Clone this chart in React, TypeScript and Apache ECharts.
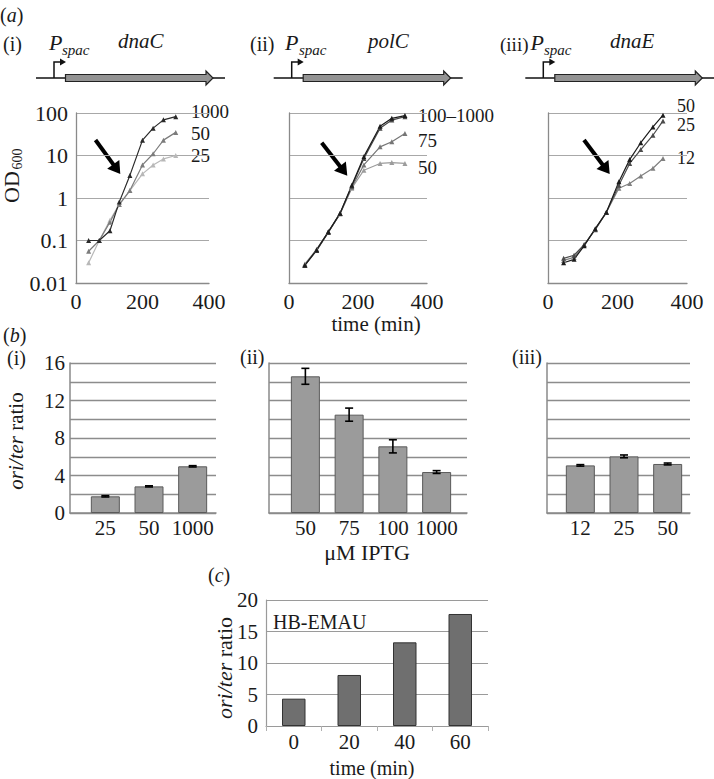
import React, { useEffect, useRef } from "react";
import * as echarts from "echarts";

const FONT = '"Liberation Serif", "Times New Roman", Times, serif';
const INK = "#1a1a1a";

// ---------- (a) growth curves: time (min) vs OD600 ----------
const timeAi = [38, 70, 102, 130, 162, 200, 232, 263, 300];
const odAi1000 = [0.1, 0.1, 0.17, 0.8, 3.4, 23, 44, 69, 82];
const odAi50 = [0.056, 0.1, 0.27, 0.7, 1.5, 6, 11, 23, 35];
const odAi25 = [0.03, 0.1, 0.3, 0.7, 1.5, 3.7, 6, 8.3, 10];

const timeAii = [46, 80, 114, 148, 182, 217, 264, 298, 336];
const odAii1000 = [0.026, 0.06, 0.16, 0.44, 2.0, 9.4, 49, 75, 87];
const odAii100 = [0.026, 0.058, 0.155, 0.43, 1.9, 8.5, 44, 68, 82];
const odAii75 = [0.027, 0.06, 0.16, 0.43, 1.8, 6.0, 16, 21, 33];
const odAii50 = [0.028, 0.062, 0.16, 0.42, 1.7, 4.5, 6.5, 6.8, 6.5];

const timeAiii = [45, 75, 104, 136, 168, 204, 235, 267, 302, 331];
const odAiii50 = [0.03, 0.036, 0.075, 0.19, 0.46, 2.4, 8, 20, 47, 89];
const odAiii25 = [0.038, 0.045, 0.08, 0.18, 0.46, 2.0, 6.5, 13.8, 30, 65];
const odAiii12 = [0.034, 0.04, 0.078, 0.185, 0.46, 1.7, 2.2, 3.3, 5, 8.5];

const odTicks = [0.01, 0.1, 1, 10, 100];

// ---------- (b) ori/ter ratio vs µM IPTG ----------
const iptgBi = ["25", "50", "1000"];
const ratioBi = [1.78, 2.84, 4.98];
const errBi = [0.07, 0.06, 0.07];

const iptgBii = ["50", "75", "100", "1000"];
const ratioBii = [14.58, 10.49, 7.11, 4.37];
const errBii = [0.85, 0.7, 0.7, 0.15];

const iptgBiii = ["12", "25", "50"];
const ratioBiii = [5.08, 6.04, 5.23];
const errBiii = [0.08, 0.15, 0.1];

// ---------- (c) HB-EMAU ori/ter ratio vs time ----------
const timeC = ["0", "20", "40", "60"];
const ratioC = [4.34, 8.1, 13.28, 17.78];

const rs = (size: number, italic = false) => ({
  fontSize: size,
  fontFamily: FONT,
  fill: INK,
  fontStyle: italic ? "italic" : "normal",
});

const txt = (x: number, y: number, text: string, size: number, opts: any = {}) => ({
  type: "text",
  x,
  y,
  silent: true,
  style: {
    text,
    fontSize: size,
    fontFamily: FONT,
    fill: INK,
    fontStyle: opts.italic ? "italic" : "normal",
    align: opts.align || "left",
    verticalAlign: "middle",
    rich: opts.rich,
  },
});

const vGroup = (x: number, y: number, children: any[]) => ({
  type: "group",
  x,
  y,
  rotation: Math.PI / 2,
  children,
});

const gene = (P: number) => [
  { type: "line", shape: { x1: P - 18, y1: 78, x2: P + 171, y2: 78 }, style: { stroke: "#111", lineWidth: 1.5 } },
  {
    type: "polyline",
    shape: { points: [[P, 78], [P, 62], [P + 7, 62]] },
    style: { stroke: "#111", lineWidth: 1.5, fill: null },
  },
  { type: "polygon", shape: { points: [[P + 6, 58.5], [P + 12, 62], [P + 6, 65.5]] }, style: { fill: "#111" } },
  {
    type: "polygon",
    shape: {
      points: [
        [P + 11.5, 74.5],
        [P + 152, 74.5],
        [P + 152, 71],
        [P + 159, 78],
        [P + 152, 85],
        [P + 152, 81.5],
        [P + 11.5, 81.5],
      ],
    },
    style: { fill: "#939393", stroke: "#222", lineWidth: 1.2 },
  },
];

const bigArrow = (x1: number, y1: number, x2: number, y2: number) => {
  const dx = x2 - x1;
  const dy = y2 - y1;
  const L = Math.hypot(dx, dy);
  const ux = dx / L;
  const uy = dy / L;
  const hl = 12;
  const hw = 7.5;
  const bx = x2 - ux * hl;
  const by = y2 - uy * hl;
  return [
    { type: "line", shape: { x1, y1, x2: bx + ux, y2: by + uy }, style: { stroke: "#000", lineWidth: 4 } },
    {
      type: "polygon",
      shape: { points: [[x2, y2], [bx - uy * hw, by + ux * hw], [bx + uy * hw, by - ux * hw]] },
      style: { fill: "#000" },
    },
  ];
};

const oriTerRich = (size: number) => ({
  i: rs(size, true),
  n: rs(size, false),
});

export default function App() {
  const ref = useRef<HTMLDivElement>(null);

  useEffect(() => {
    if (!ref.current) return;
    const chart = echarts.init(ref.current, undefined, { renderer: "svg" });

    const logFmt = (v: number) => {
      const t = odTicks.find((k) => Math.abs(Math.log10(k) - Math.log10(v)) < 1e-6);
      return t === undefined ? "" : String(t);
    };

    const aGrids = [
      { left: 76, top: 113, width: 133, height: 170 },
      { left: 289, top: 113, width: 138, height: 170 },
      { left: 548, top: 113, width: 139, height: 170 },
    ];
    const bGrids = [
      { left: 70, top: 363, width: 146, height: 150 }, // frame i
      { left: 83.5, top: 363, width: 131, height: 150 }, // bars i
      { left: 269, top: 363, width: 198, height: 150 }, // frame ii
      { left: 283.5, top: 363, width: 175, height: 150 }, // bars ii
      { left: 547, top: 363, width: 143, height: 150 }, // frame iii
      { left: 558.5, top: 363, width: 131, height: 150 }, // bars iii
    ];
    const cGrid = { left: 266, top: 600, width: 222, height: 126 };
    const grids = [...aGrids, ...bGrids, cGrid];

    const xAxes: any[] = [];
    const yAxes: any[] = [];

    // (a) axes: 0,1,2
    aGrids.forEach((_, i) => {
      xAxes.push({
        gridIndex: i,
        type: "value",
        min: 0,
        max: 400,
        interval: 200,
        axisLine: { onZero: false, lineStyle: { color: "#8a8a8a", width: 1.3 } },
        axisTick: { show: false },
        splitLine: { show: false },
        axisLabel: { fontSize: 22, fontFamily: FONT, color: INK, margin: 7 },
      });
      yAxes.push({
        gridIndex: i,
        type: "log",
        logBase: 10,
        min: 0.01,
        max: 100,
        axisLine: { show: true, onZero: false, lineStyle: { color: "#8a8a8a", width: 1.3 } },
        axisTick: { show: false },
        splitLine: { show: true, lineStyle: { color: "#a8a8a8", width: 1.2 } },
        axisLabel: {
          show: i === 0,
          fontSize: 22,
          fontFamily: FONT,
          color: INK,
          margin: 8,
          formatter: logFmt,
        },
      });
    });

    // (b) axes: frames and bars, grid indices 3..8
    const bCats = [iptgBi, iptgBii, iptgBiii];
    [0, 1, 2].forEach((k) => {
      const frame = 3 + k * 2;
      const bars = frame + 1;
      xAxes.push({
        gridIndex: frame,
        type: "value",
        min: 0,
        max: 1,
        axisLine: { show: true, onZero: false, lineStyle: { color: "#8a8a8a", width: 1.5 } },
        axisTick: { show: false },
        axisLabel: { show: false },
        splitLine: { show: false },
      });
      yAxes.push({
        gridIndex: frame,
        type: "value",
        min: 0,
        max: 16,
        interval: 2,
        axisLine: { show: true, onZero: false, lineStyle: { color: "#8a8a8a", width: 1.5 } },
        axisTick: { show: false },
        splitLine: { show: true, lineStyle: { color: "#8c8c8c", width: 1.4 } },
        axisLabel: {
          show: k === 0,
          fontSize: 21,
          fontFamily: FONT,
          color: INK,
          margin: 5,
          formatter: (v: number) => (v % 4 === 0 ? String(v) : ""),
        },
      });
      xAxes.push({
        gridIndex: bars,
        type: "category",
        data: bCats[k],
        axisLine: { show: false },
        axisTick: { show: false },
        splitLine: { show: false },
        axisLabel: { interval: 0, hideOverlap: false, fontSize: 21, fontFamily: FONT, color: INK, margin: 4 },
      });
      yAxes.push({
        gridIndex: bars,
        type: "value",
        min: 0,
        max: 16,
        show: false,
      });
    });

    // (c) axes: grid 9
    xAxes.push({
      gridIndex: 9,
      type: "category",
      data: timeC,
      axisLine: { show: true, onZero: false, lineStyle: { color: "#9a9a9a", width: 1.2 } },
      axisTick: { show: true, length: 5, lineStyle: { color: "#b0b0b0" } },
      splitLine: { show: false },
      axisLabel: { interval: 0, fontSize: 21, fontFamily: FONT, color: INK, margin: 5 },
    });
    yAxes.push({
      gridIndex: 9,
      type: "value",
      min: 0,
      max: 20,
      interval: 5,
      axisLine: { show: true, onZero: false, lineStyle: { color: "#9a9a9a", width: 1.2 } },
      axisTick: { show: false },
      splitLine: { show: true, lineStyle: { color: "#9a9a9a", width: 1.2 } },
      axisLabel: { fontSize: 21, fontFamily: FONT, color: INK, margin: 8 },
    });

    const lineS = (axis: number, times: number[], vals: number[], color: string, width = 1.2) => ({
      type: "line",
      xAxisIndex: axis,
      yAxisIndex: axis,
      data: times.map((t, i) => [t, vals[i]]),
      symbol: "triangle",
      symbolSize: 5,
      showSymbol: true,
      lineStyle: { color, width },
      itemStyle: { color },
      silent: true,
      z: 3,
    });

    const barS = (axis: number, vals: number[], color: string, border: string, width: number) => ({
      type: "bar",
      xAxisIndex: axis,
      yAxisIndex: axis,
      data: vals,
      barWidth: width,
      itemStyle: { color, borderColor: border, borderWidth: 1 },
      silent: true,
      z: 3,
    });

    const errS = (axis: number, vals: number[], errs: number[]) => ({
      type: "custom",
      xAxisIndex: axis,
      yAxisIndex: axis,
      data: vals.map((v, i) => [i, v, errs[i]]),
      encode: { x: 0, y: 1 },
      silent: true,
      z: 5,
      renderItem: (params: any, api: any) => {
        const x = api.value(0);
        const y = api.value(1);
        const e = api.value(2);
        const hi = api.coord([x, y + e]);
        const lo = api.coord([x, y - e]);
        const w = 4;
        const st = { stroke: "#000", lineWidth: 1.6 };
        return {
          type: "group",
          children: [
            { type: "line", shape: { x1: hi[0], y1: hi[1], x2: lo[0], y2: lo[1] }, style: st },
            { type: "line", shape: { x1: hi[0] - w, y1: hi[1], x2: hi[0] + w, y2: hi[1] }, style: st },
            { type: "line", shape: { x1: lo[0] - w, y1: lo[1], x2: lo[0] + w, y2: lo[1] }, style: st },
          ],
        };
      },
    });

    const series: any[] = [
      lineS(0, timeAi, odAi25, "#b8b8b8"),
      lineS(0, timeAi, odAi50, "#7c7c7c"),
      lineS(0, timeAi, odAi1000, "#2a2a2a"),
      lineS(1, timeAii, odAii50, "#9c9c9c"),
      lineS(1, timeAii, odAii75, "#767676"),
      lineS(1, timeAii, odAii100, "#4a4a4a"),
      lineS(1, timeAii, odAii1000, "#1c1c1c"),
      lineS(2, timeAiii, odAiii12, "#808080"),
      lineS(2, timeAiii, odAiii25, "#4c4c4c"),
      lineS(2, timeAiii, odAiii50, "#1c1c1c"),
      barS(4, ratioBi, "#9b9b9b", "#5a5a5a", 29),
      errS(4, ratioBi, errBi),
      barS(6, ratioBii, "#9b9b9b", "#5a5a5a", 29),
      errS(6, ratioBii, errBii),
      barS(8, ratioBiii, "#9b9b9b", "#5a5a5a", 29),
      errS(8, ratioBiii, errBiii),
      barS(9, ratioC, "#6f6f6f", "#333333", 23.5),
    ];

    const elements: any[] = [
      // panel (a) labels
      txt(0, 15, "({i|a})", 20, { rich: { i: rs(20, true) } }),
      txt(3, 44, "(i)", 20),
      txt(49, 42, "P", 22, { italic: true }),
      txt(62, 50, "spac", 15, { italic: true }),
      txt(118, 41, "dnaC", 21, { italic: true }),
      txt(250, 44, "(ii)", 20),
      txt(285, 42, "P", 22, { italic: true }),
      txt(299, 50, "spac", 15, { italic: true }),
      txt(368, 41, "polC", 21, { italic: true }),
      txt(500, 44, "(iii)", 19),
      txt(530.5, 42, "P", 22, { italic: true }),
      txt(544, 50, "spac", 15, { italic: true }),
      txt(610, 41, "dnaE", 21, { italic: true }),
      ...gene(54),
      ...gene(291.7),
      ...gene(543.3),
      ...bigArrow(95.5, 140, 120.3, 174),
      ...bigArrow(321.7, 142.7, 347.3, 175.7),
      ...bigArrow(584, 140, 609.7, 174),
      // curve labels
      txt(191, 111, "1000", 19),
      txt(191, 133, "50", 19),
      txt(191, 155, "25", 19),
      txt(418, 115, "100\u20131000", 19),
      txt(418, 140, "75", 19),
      txt(418, 167, "50", 19),
      txt(677, 106, "50", 18),
      txt(677, 125, "25", 18),
      txt(677, 158, "12", 18),
      txt(376, 324, "time (min)", 21, { align: "center" }),
      vGroup(13, 175, [
        { type: "text", x: -28, y: -1.5, style: { text: "OD", ...rs(22), align: "left", verticalAlign: "middle" } },
        { type: "text", x: 5.5, y: 4.5, style: { text: "600", ...rs(14), align: "left", verticalAlign: "middle" } },
      ]),
      // panel (b) labels
      txt(3, 335, "({i|b})", 20, { rich: { i: rs(20, true) } }),
      txt(7, 358, "(i)", 20),
      txt(240, 357, "(ii)", 20),
      txt(512, 357, "(iii)", 20),
      vGroup(15.5, 441, [
        {
          type: "text",
          x: 0,
          y: 0,
          style: {
            text: "{i|ori/ter}{n| ratio}",
            ...rs(21),
            align: "center",
            verticalAlign: "middle",
            rich: oriTerRich(21),
          },
        },
      ]),
      txt(367, 552, "\u03bcM IPTG", 22, { align: "center" }),
      // panel (c) labels
      txt(208, 575, "({i|c})", 20, { rich: { i: rs(20, true) } }),
      txt(273, 622, "HB-EMAU", 20),
      vGroup(224, 668, [
        {
          type: "text",
          x: 0,
          y: 0,
          style: {
            text: "{i|ori/ter}{n| ratio}",
            ...rs(22),
            align: "center",
            verticalAlign: "middle",
            rich: oriTerRich(22),
          },
        },
      ]),
      txt(372, 768, "time (min)", 20, { align: "center" }),
    ];

    chart.setOption({
      animation: false,
      backgroundColor: "#ffffff",
      textStyle: { fontFamily: FONT },
      grid: grids,
      xAxis: xAxes,
      yAxis: yAxes,
      series,
      graphic: { elements },
    });

    return () => chart.dispose();
  }, []);

  return (
    <div
      ref={ref}
      style={{ position: "fixed", left: 0, top: 0, width: 714, height: 779, background: "#fff" }}
    />
  );
}
